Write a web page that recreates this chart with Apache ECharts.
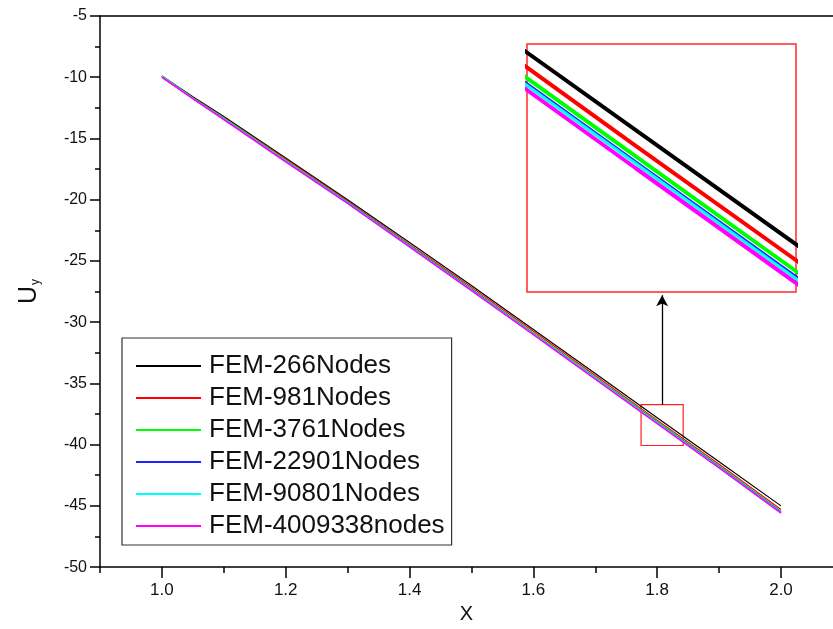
<!DOCTYPE html>
<html>
<head>
<meta charset="utf-8">
<script src="https://cdn.jsdelivr.net/npm/echarts@6/dist/echarts.min.js"></script>
<style>
html,body{margin:0;padding:0;background:#fff;}
#chart{width:833px;height:629px;}
</style>
</head>
<body>
<div id="chart"></div>
<script>
// ---- data ----
const xValues = [1.0, 1.05, 1.1, 1.2, 1.3, 1.4, 1.5, 1.6, 1.7, 1.8, 1.9, 2.0];
const seriesNames = ['FEM-266Nodes', 'FEM-981Nodes', 'FEM-3761Nodes', 'FEM-22901Nodes', 'FEM-90801Nodes', 'FEM-4009338nodes'];
const uy266   = [-9.9, -11.6, -13.2, -16.6, -20.0, -23.5, -27.0, -30.6, -34.2, -37.8, -41.4, -45.0];
const uy981   = [-9.9, -11.65, -13.3, -16.7, -20.1, -23.65, -27.15, -30.75, -34.35, -38.0, -41.6, -45.3];
const uy3761  = [-9.9, -11.7, -13.35, -16.8, -20.2, -23.75, -27.3, -30.9, -34.5, -38.13, -41.75, -45.45];
const uy22901 = [-9.95, -11.72, -13.4, -16.85, -20.25, -23.8, -27.35, -30.95, -34.57, -38.2, -41.82, -45.52];
const uy90801 = [-9.95, -11.73, -13.4, -16.86, -20.27, -23.82, -27.38, -30.98, -34.6, -38.22, -41.85, -45.55];
const uy4009338 = [-10.0, -11.75, -13.45, -16.9, -20.3, -23.85, -27.42, -31.02, -34.65, -38.28, -41.9, -45.6];
const xMajorTicks = [1.0, 1.2, 1.4, 1.6, 1.8, 2.0];
const xMinorTicks = [0.9, 1.1, 1.3, 1.5, 1.7, 1.9];
// zoom box (data coords) and inset view ranges
const zoomBoxX = [1.774, 1.842];
const zoomBoxY = [-36.73, -40.07];
const arrowX = 1.808;
const arrowTopY = -27.8;
const insetX = [1.773, 1.840];
const insetY = [-39.84, -36.72];

const allY = [uy266, uy981, uy3761, uy22901, uy90801, uy4009338];
const colors = ['#000000', '#ff0000', '#00ff00', '#2020ff', '#00ffff', '#ff00ff'];
const mainWidths = [1.2, 1.2, 1.6, 1.6, 1.6, 1.6];
const insetWidths = [4, 4, 4, 3, 3, 4];

function pairs(ys){ return xValues.map((x,i)=>[x, ys[i]]); }

const series = [];
allY.forEach((ys, i) => {
  const s = {
    name: seriesNames[i], type: 'line', xAxisIndex: 0, yAxisIndex: 0,
    data: pairs(ys), symbol: 'none', showSymbol: false,
    lineStyle: {color: colors[i], width: mainWidths[i]},
    itemStyle: {color: colors[i]},
    z: 3, animation: false
  };
  if (i === 0) {
    s.markArea = {
      silent: true,
      itemStyle: {color: 'rgba(0,0,0,0)', borderColor: '#ff2020', borderWidth: 1.2},
      data: [[{xAxis: zoomBoxX[0], yAxis: zoomBoxY[0]}, {xAxis: zoomBoxX[1], yAxis: zoomBoxY[1]}]]
    };
    s.markLine = {
      silent: true, animation: false,
      symbol: ['none', 'arrow'], symbolSize: [9, 11],
      lineStyle: {color: '#000', width: 1.3, type: 'solid'},
      label: {show: false},
      data: [[{coord: [arrowX, zoomBoxY[0]]}, {coord: [arrowX, arrowTopY]}]]
    };
  }
  series.push(s);
});
allY.forEach((ys, i) => {
  series.push({
    name: seriesNames[i], type: 'line', xAxisIndex: 3, yAxisIndex: 1,
    data: pairs(ys), symbol: 'none', showSymbol: false,
    lineStyle: {color: colors[i], width: insetWidths[i]},
    itemStyle: {color: colors[i]},
    clip: true, z: 5, animation: false
  });
});

const chart = echarts.init(document.getElementById('chart'), null, {renderer: 'canvas'});
chart.setOption({
  animation: false,
  backgroundColor: '#ffffff',
  grid: [
    {left: 100, right: 0, top: 16, bottom: 61, show: false},
    {left: 527, top: 44, width: 269, height: 248, show: true, borderColor: '#ff2a2a', borderWidth: 1.5, backgroundColor: '#fff', z: 4}
  ],
  xAxis: [
    {
      type: 'value', gridIndex: 0, min: 0.9, max: 2.084, position: 'bottom',
      name: 'X', nameLocation: 'middle', nameGap: 36,
      nameTextStyle: {fontSize: 20, color: '#111', fontFamily: "'Liberation Sans Narrow', 'Liberation Sans', Arial"},
      axisLine: {show: true, lineStyle: {color: '#000', width: 1.5}},
      axisTick: {show: true, inside: false, length: 11, lineStyle: {color: '#000', width: 1.5}, customValues: xMajorTicks},
      axisLabel: {show: true, margin: 15, fontSize: 17, color: '#111', fontFamily: "'Liberation Sans Narrow', 'Liberation Sans', Arial",
        customValues: xMajorTicks, formatter: v => Number(v).toFixed(1)},
      splitLine: {show: false}
    },
    {
      type: 'value', gridIndex: 0, min: 0.9, max: 2.084, position: 'bottom',
      axisLine: {show: false},
      axisTick: {show: true, inside: false, length: 6, lineStyle: {color: '#000', width: 1.5}, customValues: xMinorTicks},
      axisLabel: {show: false, customValues: xMinorTicks},
      splitLine: {show: false}
    },
    {
      type: 'value', gridIndex: 0, min: 0.9, max: 2.084, position: 'top',
      axisLine: {show: true, lineStyle: {color: '#000', width: 1.5}},
      axisTick: {show: false}, axisLabel: {show: false}, splitLine: {show: false}
    },
    {
      type: 'value', gridIndex: 1, min: insetX[0], max: insetX[1], show: false, splitLine: {show: false}
    }
  ],
  yAxis: [
    {
      type: 'value', gridIndex: 0, min: -50, max: -5, interval: 5,
      name: '{a|U}{b|y}', nameLocation: 'middle', nameGap: 58, nameRotate: 90,
      nameTextStyle: {
        color: '#111',
        rich: {
          a: {fontSize: 25, fontFamily: "'Liberation Sans', Arial", color: '#111', lineHeight: 30, verticalAlign: 'bottom'},
          b: {fontSize: 12, fontFamily: "'Liberation Sans', Arial", color: '#111', lineHeight: 30, verticalAlign: 'bottom', padding: [0, 0, 0, 1]}
        }
      },
      axisLine: {show: true, lineStyle: {color: '#000', width: 1.5}},
      axisTick: {show: true, inside: false, length: 10, lineStyle: {color: '#000', width: 1.5}},
      minorTick: {show: true, splitNumber: 2, length: 5, lineStyle: {color: '#000', width: 1.5}},
      axisLabel: {margin: 13, fontSize: 16, color: '#111', fontFamily: "'Liberation Sans', Arial"},
      splitLine: {show: false}
    },
    {
      type: 'value', gridIndex: 1, min: insetY[0], max: insetY[1], show: false, splitLine: {show: false}
    }
  ],
  legend: {
    data: seriesNames,
    orient: 'vertical',
    left: 122, top: 338,
    padding: [15, 7, 6, 14],
    icon: 'rect',
    itemWidth: 65, itemHeight: 2, itemGap: 6,
    borderColor: '#333', borderWidth: 1.2, backgroundColor: '#fff',
    textStyle: {fontSize: 26, color: '#111', fontFamily: "'Liberation Sans', Arial", padding: [0, 0, 0, 3]},
    selectedMode: false,
    z: 6
  },
  series: series
});
</script>
</body>
</html>
